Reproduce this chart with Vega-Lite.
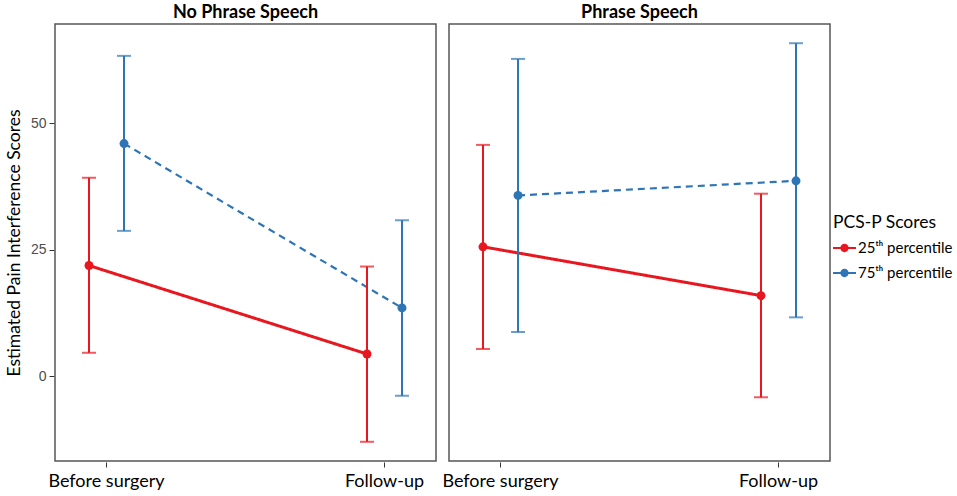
{
  "$schema": "https://vega.github.io/schema/vega-lite/v6.json",
  "padding": {"left": 5, "top": 4, "right": 0, "bottom": 0},
  "background": "white",
  "data": {
    "values": [
      {"panel": "No Phrase Speech", "time": "Before surgery", "series": "25ᵗʰ percentile", "est": 21.85, "lo": 4.6, "hi": 39.2},
      {"panel": "No Phrase Speech", "time": "Before surgery", "series": "75ᵗʰ percentile", "est": 45.96, "lo": 28.7, "hi": 63.3},
      {"panel": "No Phrase Speech", "time": "Follow-up", "series": "25ᵗʰ percentile", "est": 4.36, "lo": -13.0, "hi": 21.65},
      {"panel": "No Phrase Speech", "time": "Follow-up", "series": "75ᵗʰ percentile", "est": 13.47, "lo": -3.9, "hi": 30.8},
      {"panel": "Phrase Speech", "time": "Before surgery", "series": "25ᵗʰ percentile", "est": 25.55, "lo": 5.35, "hi": 45.7},
      {"panel": "Phrase Speech", "time": "Before surgery", "series": "75ᵗʰ percentile", "est": 35.7, "lo": 8.7, "hi": 62.7},
      {"panel": "Phrase Speech", "time": "Follow-up", "series": "25ᵗʰ percentile", "est": 15.9, "lo": -4.2, "hi": 36.05},
      {"panel": "Phrase Speech", "time": "Follow-up", "series": "75ᵗʰ percentile", "est": 38.6, "lo": 11.6, "hi": 65.8}
    ]
  },
  "facet": {
    "column": {
      "field": "panel",
      "type": "nominal",
      "sort": ["No Phrase Speech", "Phrase Speech"],
      "title": null,
      "header": {"labelFontSize": 18, "labelFontWeight": "bold", "labelFont": "Lato", "labelColor": "black", "labelPadding": 1}
    }
  },
  "spacing": 11,
  "spec": {
    "width": 381,
    "height": 437,
    "encoding": {
      "x": {
        "field": "time",
        "type": "nominal",
        "sort": ["Before surgery", "Follow-up"],
        "title": null,
        "scale": {"type": "band", "paddingInner": 0.748, "paddingOuter": 0.0593},
        "axis": {"labelAngle": 0, "labelFontSize": 18, "labelFont": "Lato", "labelColor": "black", "tickColor": "#333333", "tickSize": 5, "labelPadding": 5, "domain": false}
      },
      "xOffset": {"field": "series", "type": "nominal", "sort": ["25ᵗʰ percentile", "75ᵗʰ percentile"]},
      "color": {
        "field": "series",
        "type": "nominal",
        "sort": ["25ᵗʰ percentile", "75ᵗʰ percentile"],
        "scale": {"domain": ["25ᵗʰ percentile", "75ᵗʰ percentile"], "range": ["#E8161E", "#2E75B6"]},
        "legend": {
          "title": "PCS-P Scores",
          "orient": "none",
          "legendX": 778,
          "legendY": 190,
          "titleFontSize": 17.5,
          "titleFont": "Lato",
          "titleFontWeight": "normal",
          "titleColor": "black",
          "labelFontSize": 15,
          "labelFont": "Lato",
          "labelColor": "black",
          "symbolType": "M-1,-0.09L1,-0.09L1,0.09L-1,0.09Z M-0.36,0 a0.36,0.36 0 1,1 0.72,0 a0.36,0.36 0 1,1 -0.72,0",
          "symbolSize": 529,
          "symbolStrokeWidth": 0,
          "symbolOpacity": 1,
          "rowPadding": 5,
          "titlePadding": 5,
          "labelOffset": 2
        }
      }
    },
    "layer": [
      {
        "mark": {"type": "line"},
        "encoding": {
          "y": {
            "field": "est",
            "type": "quantitative",
            "title": "Estimated Pain Interference Scores",
            "scale": {"domain": [-16.8, 69.6], "nice": false, "zero": false},
            "axis": {"values": [0, 25, 50], "grid": false, "domain": false, "labelFontSize": 14, "labelFont": "Liberation Sans", "labelColor": "#4D4D4D", "tickColor": "#333333", "tickSize": 5, "labelPadding": 3, "titleFontSize": 17.5, "titleFont": "Lato", "titleFontWeight": "normal", "titleColor": "black", "titlePadding": 7}
          },
          "strokeDash": {
            "condition": {"test": "datum.series === '75ᵗʰ percentile'", "value": [7, 5]},
            "value": [1, 0]
          },
          "strokeWidth": {
            "condition": {"test": "datum.series === '75ᵗʰ percentile'", "value": 2.2},
            "value": 3
          }
        }
      },
      {
        "mark": {"type": "rule", "strokeWidth": 2},
        "encoding": {
          "y": {"field": "lo", "type": "quantitative"},
          "y2": {"field": "hi"}
        }
      },
      {
        "mark": {"type": "tick", "size": 14, "thickness": 2},
        "encoding": {"y": {"field": "lo", "type": "quantitative"}}
      },
      {
        "mark": {"type": "tick", "size": 14, "thickness": 2},
        "encoding": {"y": {"field": "hi", "type": "quantitative"}}
      },
      {
        "mark": {"type": "point", "filled": true, "size": 80, "opacity": 1},
        "encoding": {"y": {"field": "est", "type": "quantitative"}}
      }
    ]
  },
  "resolve": {"scale": {"y": "shared", "x": "shared"}},
  "config": {
    "view": {"stroke": "#555555", "strokeWidth": 1.5},
    "axis": {"ticks": true}
  }
}
